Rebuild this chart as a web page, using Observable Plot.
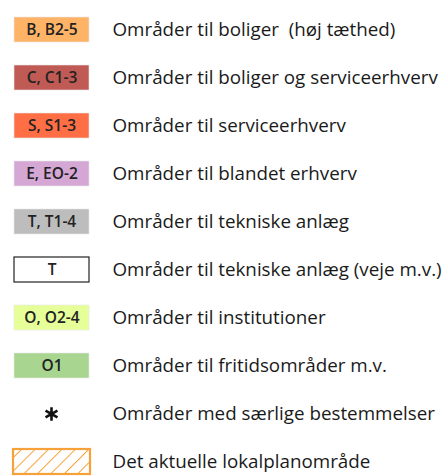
<!DOCTYPE html>
<html>
<head>
<meta charset="utf-8">
<script src="https://cdn.jsdelivr.net/npm/d3@7"></script>
<script src="https://cdn.jsdelivr.net/npm/@observablehq/plot@0.6"></script>
<style>
  html, body { margin: 0; padding: 0; background: #fff; }
  svg { display: block; }
</style>
</head>
<body>
<div id="chart"></div>
<script>
const codes = ["B, B2-5", "C, C1-3", "S, S1-3", "E, EO-2", "T, T1-4", "T", "O, O2-4", "O1", "", ""];
const descriptions = [
  "Områder til boliger  (høj tæthed)",
  "Områder til boliger og serviceerhverv",
  "Områder til serviceerhverv",
  "Områder til blandet erhverv",
  "Områder til tekniske anlæg",
  "Områder til tekniske anlæg (veje m.v.)",
  "Områder til institutioner",
  "Områder til fritidsområder m.v.",
  "Områder med særlige bestemmelser",
  "Det aktuelle lokalplanområde"
];
const kinds = ["fill", "fill", "fill", "fill", "fill", "outline", "fill", "fill", "star", "hatch"];
const colors = ["#FFB366", "#BF5A54", "#FF6E45", "#D4A7D4", "#BDBDBD", "#FFFFFF", "#E6FF99", "#A8D690", "none", "url(#hatch)"];

const rows = descriptions.map((d, i) => ({code: codes[i], desc: d, kind: kinds[i], color: colors[i]}));
const boxRows = rows.filter(r => r.kind === "fill" || r.kind === "outline");

const plot = Plot.plot({
  width: 448,
  height: 476,
  margin: 0,
  style: {fontFamily: "'Open Sans', sans-serif", background: "#fff"},
  x: {type: "linear", domain: [0, 448], range: [0, 448], axis: null},
  y: {type: "band", domain: descriptions, range: [-10.7, 502.3], paddingInner: 0.4694, paddingOuter: 0.4694, axis: null},
  marks: [
    Plot.barX(boxRows, {x1: 14, x2: 89, y: "desc", fill: "color",
      stroke: d => d.kind === "outline" ? "#222" : "#e8e8e8", strokeWidth: d => d.kind === "outline" ? 1.2 : 0.6}),
    Plot.barX(rows.filter(r => r.kind === "hatch"), {x1: 13, x2: 90, y: "desc", fill: "color",
      stroke: "#F7A13A", strokeWidth: 2.2}),
    Plot.dot(rows.filter(r => r.kind === "star"), {x: 51, y: "desc", symbol: "asterisk", r: 6.5, stroke: "#111", strokeWidth: 2.6}),
    Plot.text(boxRows, {x: 51.5, y: "desc", text: "code", fontSize: 15.5, fontWeight: 600, fill: "#222", textAnchor: "middle"}),
    Plot.text(rows, {x: 112, y: "desc", text: "desc", fontSize: 18.8, fill: "#1a1a1a", textAnchor: "start"})
  ]
});

const svgNS = "http://www.w3.org/2000/svg";
const defs = document.createElementNS(svgNS, "defs");
defs.innerHTML = `<pattern id="hatch" patternUnits="userSpaceOnUse" width="9.5" height="9.5" patternTransform="rotate(45)">
  <line x1="0" y1="0" x2="0" y2="9.5" stroke="#F7A13A" stroke-width="2"/>
</pattern>`;
plot.insertBefore(defs, plot.firstChild);

document.getElementById("chart").appendChild(plot);
</script>
</body>
</html>
